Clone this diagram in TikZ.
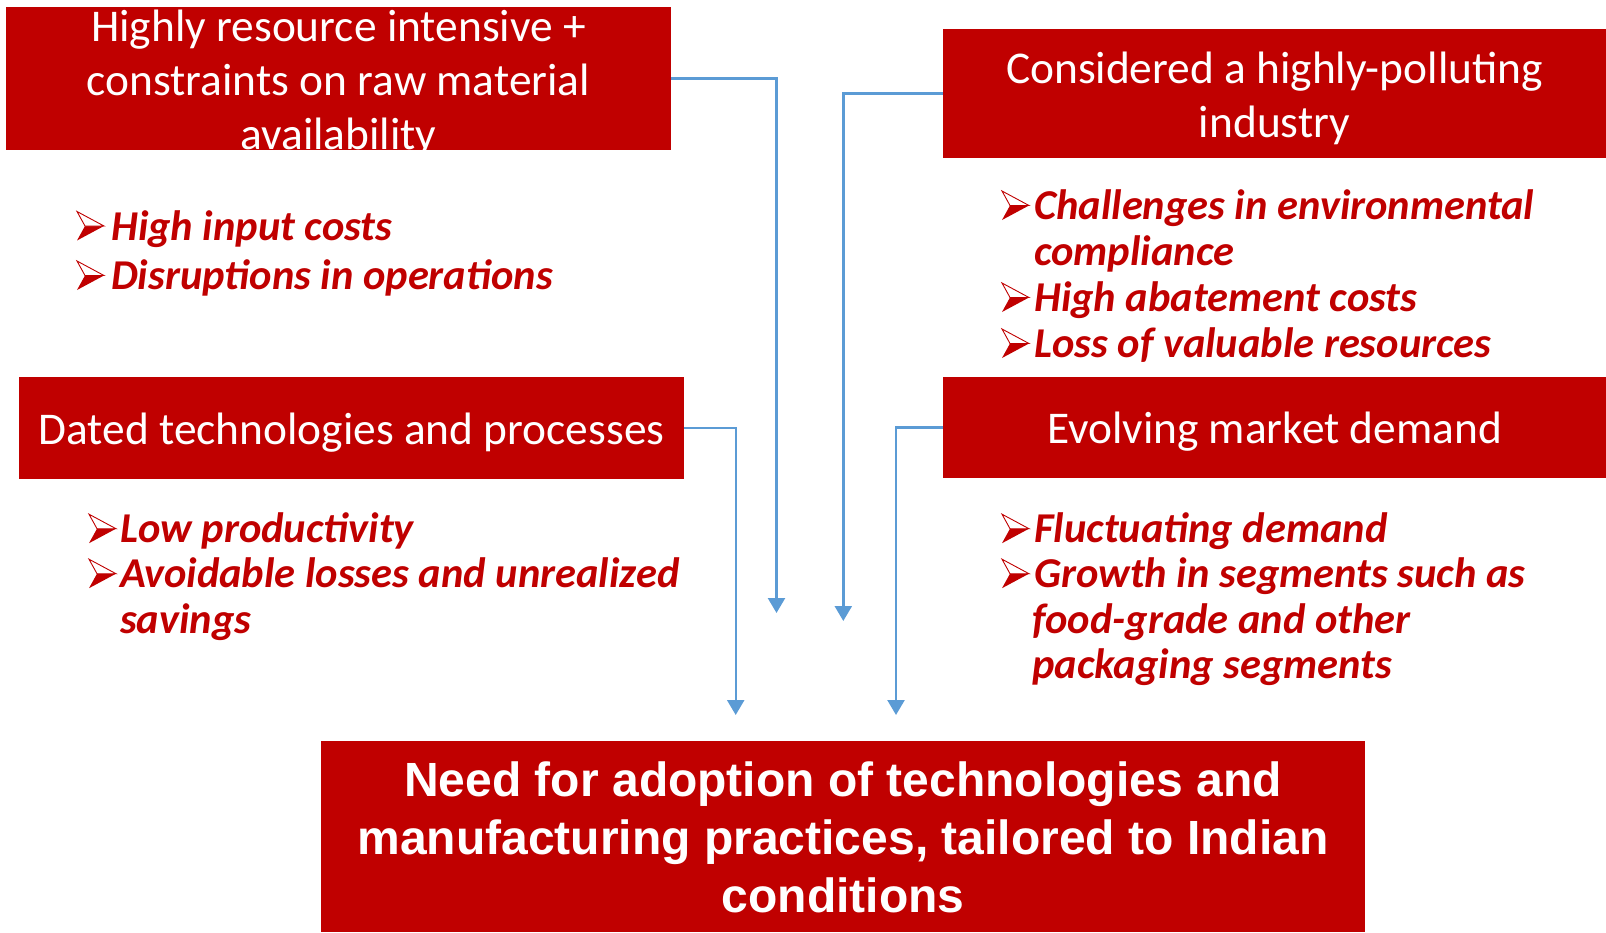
\documentclass[tikz,border=0pt]{standalone}
\usepackage{fontspec}
\setmainfont{Carlito}
\newfontfamily\arialfont{Liberation Sans}
\usetikzlibrary{arrows.meta}
\definecolor{boxred}{HTML}{C00000}
\definecolor{connblue}{HTML}{5B9BD5}
\begin{document}
\begin{tikzpicture}[x=1pt,y=-1pt,
  box/.style={fill=boxred, draw=none, inner sep=0pt},
  boxtxt/.style={text=white, align=center, inner sep=0pt, font=\fontsize{45.4}{54}\selectfont},
  bigtxt/.style={text=white, align=center, inner sep=0pt, font=\arialfont\fontsize{48}{58}\selectfont\bfseries},
  item/.style={text=boxred, anchor=base west, inner sep=0pt, font=\fontsize{42.5}{46}\selectfont\bfseries\itshape},
  conn/.style={draw=connblue, line width=2.4pt, -{Triangle[width=17pt,length=15pt]}},
  arrowbul/.pic={
    \fill[boxred] (8,0) -- (27,0) -- (0,14.5) -- cycle;
    \draw[boxred, line width=0.9pt, line join=miter, fill=white] (0,-14.5) -- (27,0) -- (8,0) -- cycle;
  }
]
\useasboundingbox (0,0) rectangle (1606,932);

% boxes
\node[box, minimum width=665pt, minimum height=143pt] (b1) at (338.5,78.5) {};
\node[box, minimum width=663pt, minimum height=129pt] (b2) at (1274.5,93.5) {};
\node[box, minimum width=665pt, minimum height=102pt] (b3) at (351.5,428) {};
\node[box, minimum width=663pt, minimum height=101pt] (b4) at (1274.5,427.5) {};
\node[box, minimum width=1044pt, minimum height=191pt] (b5) at (843,836.5) {};

% box texts
\node[boxtxt] (t1) at (338.5,83) {Highly resource intensive +\\constraints on raw material\\availability};
\node[boxtxt] (t2) at (1274.5,98) {Considered a highly-polluting\\industry};
\node[boxtxt] (t3) at (351.5,433) {Dated technologies and processes};
\node[boxtxt] (t4) at (1274.5,432) {Evolving market demand};
\node[bigtxt] (t5) at (843,837.5) {Need for adoption of technologies and\\manufacturing practices, tailored to Indian\\conditions};

% connectors
\coordinate (e1) at (776.5,613);
\coordinate (e2) at (843.3,621);
\coordinate (e3) at (735.7,715);
\coordinate (e4) at (896,715);
\draw[conn] (b1.east) -| (e1);
\draw[conn] (b2.west) -| (e2);
\draw[conn] (b3.east) -| (e3);
\draw[conn] (b4.west) -| (e4);

% list 1
\pic at (77,226) {arrowbul};
\node[item] (l1a) at (111,240) {High input costs};
\pic at (77,275.5) {arrowbul};
\node[item] (l1b) at (111,289.5) {Disruptions in operations};

% list 2
\pic at (1002,205.5) {arrowbul};
\node[item] (l2a) at (1034,219.5) {Challenges in environmental};
\node[item] (l2a2) at (1034,265.5) {compliance};
\pic at (1002,297.5) {arrowbul};
\node[item] (l2b) at (1034,311.5) {High abatement costs};
\pic at (1002,343.5) {arrowbul};
\node[item] (l2c) at (1034,357.5) {Loss of valuable resources};

% list 3
\pic at (89,528.7) {arrowbul};
\node[item] (l3a) at (120,542.7) {Low productivity};
\pic at (89,573.7) {arrowbul};
\node[item] (l3b) at (120,587.7) {Avoidable losses and unrealized};
\node[item] (l3b2) at (120,633) {savings};

% list 4
\pic at (1002,528.7) {arrowbul};
\node[item] (l4a) at (1034,542.7) {Fluctuating demand};
\pic at (1002,573.7) {arrowbul};
\node[item] (l4b) at (1034,587.7) {Growth in segments such as};
\node[item] (l4b2) at (1032,633) {food-grade and other};
\node[item] (l4b3) at (1032,678.5) {packaging segments};
\end{tikzpicture}
\end{document}
